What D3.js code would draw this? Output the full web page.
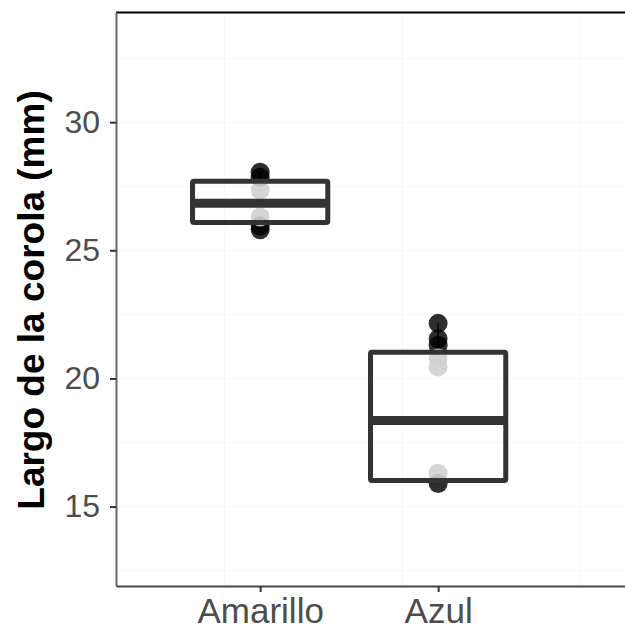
<!DOCTYPE html>
<html>
<head>
<meta charset="utf-8">
<script src="https://cdn.jsdelivr.net/npm/d3@7"></script>
<style>
  body { margin: 0; background: #fff; }
  text { font-family: "Liberation Sans", Arial, sans-serif; }
</style>
</head>
<body>
<div class="chart-container"></div>
<script>
/********** the Data **********/
const categories = ["Amarillo", "Azul"];
const catPos = [1, 2];

// box stats
const q1 = [26.09, 16.02];
const medians = [26.84, 18.36];
const q3 = [27.70, 21.02];
const whiskLow = [25.8, 15.9];
const whiskHigh = [28.05, 22.15];

// individual points, black group and light grey group
const darkPoints = [
  {cat: "Amarillo", value: 28.05},
  {cat: "Amarillo", value: 27.85},
  {cat: "Amarillo", value: 25.95},
  {cat: "Amarillo", value: 25.8},
  {cat: "Azul", value: 22.15},
  {cat: "Azul", value: 21.55},
  {cat: "Azul", value: 21.3},
  {cat: "Azul", value: 15.9}
];
const lightPoints = [
  {cat: "Amarillo", value: 27.35},
  {cat: "Amarillo", value: 26.3},
  {cat: "Azul", value: 20.8},
  {cat: "Azul", value: 20.45},
  {cat: "Azul", value: 16.3}
];

const yTicks = [15, 20, 25, 30];
const yGrid = [12.5, 15, 17.5, 20, 22.5, 25, 27.5, 30, 32.5];
const xGrid = [0.8, 1.8, 2.8];

/********** drawChart **********/
function drawChart() {
  let width = 625;
  let height = 629;
  let margin = {top: 12, left: 116, bottom: 43};

  let xScale = d3.scaleLinear()
    .domain([0.19, 3.05])
    .range([margin.left, width]);

  let yScale = d3.scaleLinear()
    .domain([11.9, 34.3])
    .range([height - margin.bottom, margin.top]);

  let svg = d3.select(".chart-container")
    .append("svg")
      .attr("width", width)
      .attr("height", height);

  // very faint grid
  svg.append("g").selectAll("line")
    .data(yGrid)
    .enter().append("line")
      .attr("x1", margin.left).attr("x2", width)
      .attr("y1", d => yScale(d)).attr("y2", d => yScale(d))
      .attr("stroke", "#f8f8f8").attr("stroke-width", 1);

  svg.append("g").selectAll("line")
    .data(xGrid)
    .enter().append("line")
      .attr("x1", d => xScale(d)).attr("x2", d => xScale(d))
      .attr("y1", margin.top).attr("y2", height - margin.bottom)
      .attr("stroke", "#f8f8f8").attr("stroke-width", 1);

  let xOf = cat => xScale(catPos[categories.indexOf(cat)]);

  // whiskers, only outside the box
  let whisk = svg.append("g");
  whisk.selectAll(".w-up")
    .data(categories)
    .enter().append("line")
      .attr("x1", (d, i) => xScale(catPos[i]))
      .attr("x2", (d, i) => xScale(catPos[i]))
      .attr("y1", (d, i) => yScale(whiskHigh[i]))
      .attr("y2", (d, i) => yScale(q3[i]))
      .attr("stroke", "#111").attr("stroke-width", 1.5);
  whisk.selectAll(".w-down")
    .data(categories)
    .enter().append("line")
      .attr("x1", (d, i) => xScale(catPos[i]))
      .attr("x2", (d, i) => xScale(catPos[i]))
      .attr("y1", (d, i) => yScale(q1[i]))
      .attr("y2", (d, i) => yScale(whiskLow[i]))
      .attr("stroke", "#111").attr("stroke-width", 1.5);

  // points
  svg.append("g").selectAll("circle")
    .data(darkPoints)
    .enter().append("circle")
      .attr("cx", d => xOf(d.cat))
      .attr("cy", d => yScale(d.value))
      .attr("r", 9.5)
      .attr("fill", "#000")
      .attr("fill-opacity", 0.82);

  svg.append("g").selectAll("circle")
    .data(lightPoints)
    .enter().append("circle")
      .attr("cx", d => xOf(d.cat))
      .attr("cy", d => yScale(d.value))
      .attr("r", 9.5)
      .attr("fill", "#d0d0d0")
      .attr("fill-opacity", 0.9);

  // boxes
  let halfW = 0.38;
  let boxes = svg.append("g");
  boxes.selectAll("rect")
    .data(categories)
    .enter().append("rect")
      .attr("x", (d, i) => xScale(catPos[i] - halfW))
      .attr("width", (d, i) => xScale(catPos[i] + halfW) - xScale(catPos[i] - halfW))
      .attr("y", (d, i) => yScale(q3[i]))
      .attr("height", (d, i) => yScale(q1[i]) - yScale(q3[i]))
      .attr("fill", "none")
      .attr("stroke", "#333")
      .attr("stroke-width", 5)
      .attr("rx", 1.5);

  boxes.selectAll(".median")
    .data(categories)
    .enter().append("line")
      .attr("class", "median")
      .attr("x1", (d, i) => xScale(catPos[i] - halfW))
      .attr("x2", (d, i) => xScale(catPos[i] + halfW))
      .attr("y1", (d, i) => yScale(medians[i]))
      .attr("y2", (d, i) => yScale(medians[i]))
      .attr("stroke", "#333")
      .attr("stroke-width", 9);

  // panel lines: top border black, axes grey
  svg.append("line")
    .attr("x1", margin.left).attr("x2", width)
    .attr("y1", margin.top + 0.5).attr("y2", margin.top + 0.5)
    .attr("stroke", "#000").attr("stroke-width", 2);

  let yAxis = d3.axisLeft(yScale)
    .tickValues(yTicks)
    .tickSizeInner(6)
    .tickSizeOuter(0)
    .tickPadding(10);
  let yG = svg.append("g")
    .attr("transform", `translate(${margin.left}, 0)`)
    .call(yAxis);
  yG.select(".domain").attr("stroke", "#666").attr("stroke-width", 2);
  yG.selectAll(".tick line").attr("stroke", "#333").attr("stroke-width", 2);
  yG.selectAll(".tick text")
    .attr("fill", "#4d4d4d")
    .style("font-size", "32px");

  let xAxis = d3.axisBottom(xScale)
    .tickValues(catPos)
    .tickFormat((d, i) => categories[i])
    .tickSizeInner(6)
    .tickSizeOuter(0)
    .tickPadding(6);
  let xG = svg.append("g")
    .attr("transform", `translate(0, ${height - margin.bottom})`)
    .call(xAxis);
  xG.select(".domain").attr("stroke", "#444").attr("stroke-width", 2);
  xG.selectAll(".tick line").attr("stroke", "#333").attr("stroke-width", 2);
  xG.selectAll(".tick text")
    .attr("fill", "#4d4d4d")
    .style("font-size", "35px");

  // y-axis title
  svg.append("text")
    .attr("transform", "translate(44, 300) rotate(-90)")
    .attr("text-anchor", "middle")
    .style("font-size", "37px")
    .style("font-weight", "bold")
    .attr("fill", "#000")
    .text("Largo de la corola (mm)");
}

drawChart();
</script>
</body>
</html>
